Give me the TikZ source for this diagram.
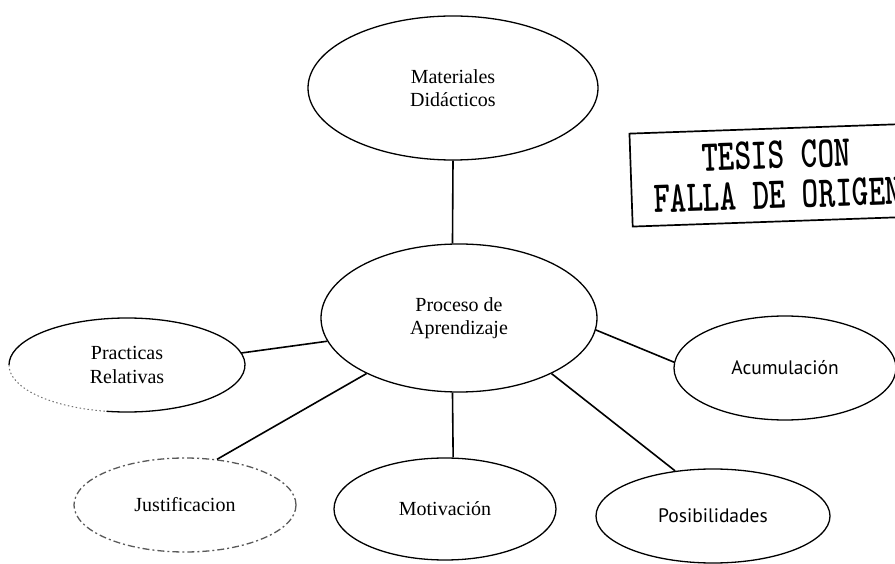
\documentclass[tikz,border=0pt]{standalone}
\usepackage{fontspec}
\usepackage{graphicx}
\usetikzlibrary{shapes.geometric}
\setmainfont{Liberation Serif}
\newfontfamily\humfont{PT Sans}

\begin{document}
\begin{tikzpicture}[
    x=1pt, y=1pt,
    oval/.style={ellipse, draw, line width=1.3pt, inner sep=0pt, align=center,
        font=\fontsize{20}{23.5}\selectfont},
    humoval/.style={oval, font=\humfont\fontsize{19.5}{23}\selectfont},
    fadedoval/.style={oval, draw=black!65, dash pattern=on 7pt off 3pt on 2pt off 3pt},
    link/.style={line width=1.6pt},
    stampbox/.style={draw, line width=1.7pt, minimum width=292pt, minimum height=93pt,
        inner sep=0pt, align=center,
        font=\ttfamily\bfseries\fontsize{31.5}{40}\selectfont},
    ]
\useasboundingbox (0,0) rectangle (895,563);
\clip (0,0) rectangle (895,563);

% ovals
\node[oval, minimum width=290pt, minimum height=144pt] (mat) at (453,475) {Materiales\\Didácticos};
\node[oval, minimum width=276pt, minimum height=148pt] (proc) at (459,245) {Proceso de\\Aprendizaje};
\node[ellipse, inner sep=0pt, align=center, font=\fontsize{20}{23.5}\selectfont,
    minimum width=236pt, minimum height=94pt] (prac) at (127,198) {Practicas\\Relativas};
\node[fadedoval, minimum width=222pt, minimum height=94pt] (just) at (185,58) {Justificacion};
\node[oval, minimum width=222pt, minimum height=102pt] (mot) at (445,54) {Motivación};
\node[humoval, minimum width=234pt, minimum height=94pt] (posib) at (713,47) {Posibilidades};
\node[humoval, minimum width=222pt, minimum height=104pt] (acum) at (785,195) {Acumulación};

% oval of Practicas, half faded
\draw[line width=1.3pt] (prac.center) ++(-100:118 and 47)
    arc[start angle=-100, end angle=180, x radius=118, y radius=47];
\draw[line width=1pt, black!55, dash pattern=on 1.5pt off 2.5pt] (prac.center) ++(180:118 and 47)
    arc[start angle=180, end angle=260, x radius=118, y radius=47];

% links
\draw[link] (mat.south) -- (proc.95);
\draw[link] (proc.190) -- (prac.6);
\draw[link] (proc.211) -- (just.55);
\draw[link] (proc.265) -- (mot.81);
\draw[link] (proc.329) -- (posib.130);
\draw[link] (proc.355) -- (acum.177);

% stamp
\node[stampbox, rotate=2] (stamp) at (777,388)
    {\scalebox{1}[1.4]{TESIS CON}\\\scalebox{1}[1.4]{FALLA DE ORIGEN}};

\end{tikzpicture}
\end{document}
